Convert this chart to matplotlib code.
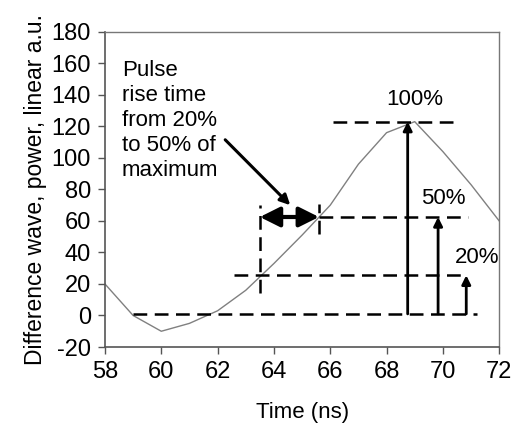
import numpy as np
import matplotlib.pyplot as plt

plt.rcParams['font.family'] = ['Liberation Sans', 'DejaVu Sans']
plt.rcParams['axes.unicode_minus'] = False

# difference wave (1 ns steps)
t = [58, 59, 60, 61, 62, 63, 64, 65, 66, 67, 68, 69, 70, 71, 72]
power = [20, 0, -10, -5, 3, 16, 33, 51, 70, 96, 116, 123, 104, 83, 60]

base = 1.0
peak = 123.0
lvl20 = 25.5
lvl50 = 62.5
t20 = 63.5
t50 = 65.6

x_ticks = [58, 60, 62, 64, 66, 68, 70, 72]
y_ticks = [-20, 0, 20, 40, 60, 80, 100, 120, 140, 160, 180]

fs = 16

fig = plt.figure(figsize=(5.12, 4.30), dpi=100)
ax = fig.add_axes([0.205, 0.193, 0.770, 0.733])

ax.plot(t, power, color='#808080', lw=1.0)

dash = dict(color='black', lw=1.8, linestyle=(0, (5.5, 3.0)))
ax.plot([59.0, 71.2], [base, base], **dash)
ax.plot([62.6, 70.8], [lvl20, lvl20], **dash)
ax.plot([65.6, 70.9], [lvl50, lvl50], **dash)
ax.plot([66.1, 70.6], [peak, peak], **dash)
ax.plot([t20, t20], [14, 70], **dash)
ax.plot([t50, t50], [52, 71], **dash)

# double arrow for rise time
ax.annotate('', xy=(t20, lvl50), xytext=(t50, lvl50),
            arrowprops=dict(arrowstyle='<|-|>', color='black', lw=3.0,
                            mutation_scale=30, shrinkA=0, shrinkB=0))

# level arrows
for xa, ya, lab, tx, ty in [(68.75, peak, '100%', 69.0, 137),
                            (69.83, lvl50, '50%', 70.0, 74),
                            (70.83, lvl20, '20%', 71.2, 37)]:
    ax.annotate('', xy=(xa, ya), xytext=(xa, base),
                arrowprops=dict(arrowstyle='-|>', color='black', lw=2.0,
                                mutation_scale=13, shrinkA=0, shrinkB=0))
    ax.text(tx, ty, lab, ha='center', va='center', fontsize=fs)

ax.text(58.6, 162, 'Pulse\nrise time\nfrom 20%\nto 50% of\nmaximum',
        ha='left', va='top', fontsize=fs, linespacing=1.25)
ax.annotate('', xy=(64.58, 70), xytext=(62.27, 111.5),
            arrowprops=dict(arrowstyle='-|>', color='black', lw=2.2,
                            mutation_scale=15, shrinkA=0, shrinkB=0))

ax.set_xlim(58, 72)
ax.set_ylim(-20, 180)
ax.set_xticks(x_ticks)
ax.set_yticks(y_ticks)
ax.tick_params(direction='out', length=5, width=1, color='#555555',
               labelsize=17, pad=5)
for s in ['left', 'bottom']:
    ax.spines[s].set_color('#555555')
    ax.spines[s].set_linewidth(1.2)
for s in ['top', 'right']:
    ax.spines[s].set_color('#777777')
    ax.spines[s].set_linewidth(1.0)

ax.set_xlabel('Time (ns)', fontsize=fs, labelpad=14)
ax.set_ylabel('Difference wave, power, linear a.u.', fontsize=16.5, labelpad=3)

fig.savefig('out.png', dpi=100)
